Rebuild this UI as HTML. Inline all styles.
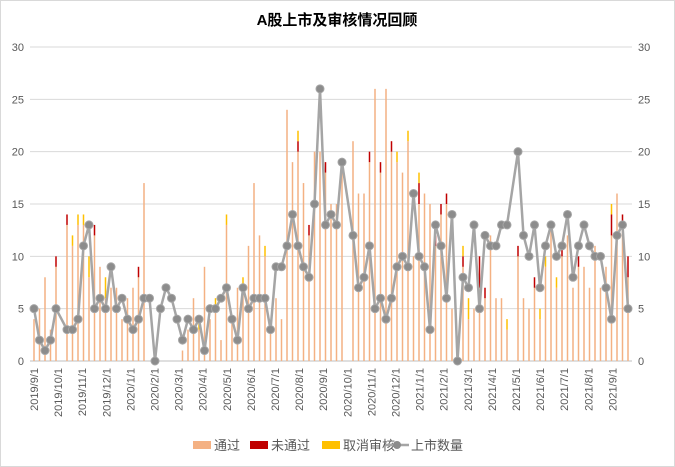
<!DOCTYPE html>
<html><head><meta charset="utf-8"><style>
body{margin:0;background:#fff;}
#wrap{position:relative;width:675px;height:467px;overflow:hidden;}
svg text{font-family:"Liberation Sans","Noto Sans CJK SC",sans-serif;}
</style></head><body>
<div id="wrap">
<svg id="chart" width="675" height="467">
<rect x="0.5" y="0.5" width="674" height="466" fill="#fff" stroke="#d9d9d9"/>
<text x="337" y="25" text-anchor="middle" font-size="15" font-weight="bold" fill="#000">A股上市及审核情况回顾</text>
<g id="grid"></g><g id="bars"></g><g id="line"></g><g id="axes"></g>
<g font-size="13" fill="#595959">
<rect x="193" y="441" width="18" height="8" fill="#f4b183"/>
<text x="214" y="450">通过</text>
<rect x="250" y="441" width="18" height="8" fill="#c00000"/>
<text x="271" y="450">未通过</text>
<rect x="322" y="441" width="18" height="8" fill="#ffc000"/>
<text x="343" y="450">取消审核</text>
<line x1="385" y1="445" x2="409" y2="445" stroke="#a5a5a5" stroke-width="2.5"/>
<circle cx="397" cy="445" r="4" fill="#8c8c8c"/>
<text x="411" y="450">上市数量</text>
</g>
</svg></div>
<script>
const listing=[5,2,1,2,5,null,3,3,4,11,13,5,6,5,9,5,6,4,3,4,6,6,0,5,7,6,4,2,4,3,4,1,5,5,6,7,4,2,7,5,6,6,6,3,9,9,11,14,11,9,8,15,26,13,14,13,19,null,12,7,8,11,5,6,4,6,9,10,9,16,10,9,3,13,11,6,14,0,8,7,13,5,12,11,11,13,13,null,20,12,10,13,7,11,13,10,11,14,8,11,13,11,10,10,7,4,12,13,5];
const passed=[4,5,8,3,9,0,13,11,13,13,8,12,9,6,7,7,4,6,7,8,17,0,0,0,0,0,0,1,3,6,3,9,4,5,2,13,4,7,7,11,17,12,10,3,6,4,24,19,20,17,12,20,20,18,15,15,19,0,21,16,16,19,26,18,26,20,19,18,21,10,15,16,15,11,14,15,5,0,9,4,5,7,6,12,6,6,3,0,10,6,5,7,4,9,13,7,10,12,7,9,9,7,11,7,9,12,16,13,8];
const failed=[0,0,0,0,1,0,1,0,0,0,0,1,0,0,0,0,0,0,0,1,0,0,0,0,0,0,0,0,0,0,0,0,0,0,0,0,0,0,0,0,0,0,0,0,0,0,0,0,1,0,1,0,0,1,0,0,0,0,0,0,0,1,0,1,0,1,0,0,0,0,2,0,0,1,1,1,0,0,1,0,0,3,1,0,0,0,0,0,1,0,0,1,0,0,0,0,1,0,0,1,0,0,0,0,0,2,0,1,2];
const cancelled=[0,0,0,0,0,0,0,1,1,1,2,0,0,2,0,0,0,0,0,0,0,0,0,0,0,0,0,0,0,0,1,0,0,1,0,1,0,0,1,0,0,0,1,0,0,0,0,0,1,0,0,0,0,0,0,0,0,0,0,0,0,0,0,0,0,0,1,0,1,0,1,0,0,0,0,0,0,0,1,2,0,0,0,0,0,0,1,0,0,0,0,0,1,1,0,1,0,0,0,0,0,0,0,0,0,1,0,0,0];
const yTicks=[0,5,10,15,20,25,30];
const monthLabels=["2019/9/1","2019/10/1","2019/11/1","2019/12/1","2020/1/1","2020/2/1","2020/3/1","2020/4/1","2020/5/1","2020/6/1","2020/7/1","2020/8/1","2020/9/1","2020/10/1","2020/11/1","2020/12/1","2021/1/1","2021/2/1","2021/3/1","2021/4/1","2021/5/1","2021/6/1","2021/7/1","2021/8/1","2021/9/1"];
const NS="http://www.w3.org/2000/svg";
const x0=34,step=5.5,yBase=361,yTop=47,yMax=30;
const xs=i=>x0+i*step;
const ys=v=>yBase-(v/yMax)*(yBase-yTop);
const monthX=i=>34+i*24.1;
function mk(tag,attrs,parent){const e=document.createElementNS(NS,tag);for(const k in attrs)e.setAttribute(k,attrs[k]);parent.appendChild(e);return e;}
const grid=document.getElementById('grid'),axes=document.getElementById('axes'),bars=document.getElementById('bars'),lineG=document.getElementById('line');
yTicks.forEach(t=>{
 const l=mk('line',{x1:30,x2:632,y1:ys(t),y2:ys(t),stroke:t===0?'#bfbfbf':'#d9d9d9','stroke-width':1},grid);
 
 
 const a=mk('text',{x:24,y:ys(t)+4,'text-anchor':'end','font-size':11,fill:'#595959'},axes);a.textContent=t;
 
 
 const b=mk('text',{x:638,y:ys(t)+4,'text-anchor':'start','font-size':11,fill:'#595959'},axes);b.textContent=t;
 
 
});
monthLabels.forEach((m,i)=>{
 const x=monthX(i);
 const t=mk('text',{x:0,y:0,'text-anchor':'end','font-size':11,fill:'#595959',transform:`translate(${x+4},368) rotate(-90)`},axes);t.textContent=m;
 
 
});
passed.forEach((p,i)=>{
 const x=xs(i)-0.75;let acc=0;
 [[p,'#f4b183','bar-pass'],[failed[i],'#c00000','bar-fail'],[cancelled[i],'#ffc000','bar-cancel']].forEach(([v,c,n])=>{
  if(v>0){const r=mk('rect',{x:x,y:ys(acc+v),width:1.5,height:ys(acc)-ys(acc+v),fill:c},bars);
  
  }
  acc+=v;});
});
let d='';listing.forEach((v,i)=>{if(v===null)return;d+=(d?'L':'M')+xs(i)+','+ys(v);});
const pl=mk('path',{d:d,fill:'none',stroke:'#a5a5a5','stroke-width':2.5},lineG);


listing.forEach((v,i)=>{if(v===null)return;
 const c=mk('circle',{cx:xs(i),cy:ys(v),r:4,fill:'#8c8c8c',stroke:'#a5a5a5','stroke-width':1},lineG);
 
 });
</script>
</body></html>
